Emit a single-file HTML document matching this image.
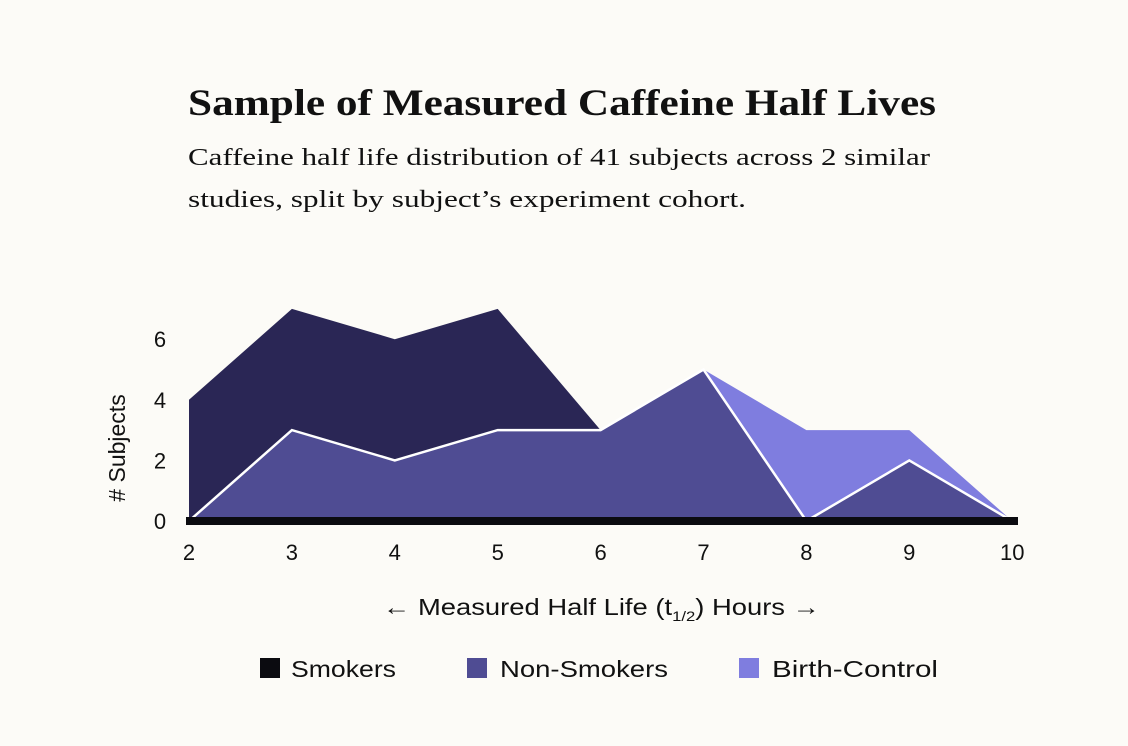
<!DOCTYPE html>
<html><head><meta charset="utf-8"><style>
body{margin:0;background:#fcfbf7;width:1128px;height:746px;overflow:hidden}
svg{display:block}
</style></head><body>
<svg width="1128" height="746" id="c">
<rect width="1128" height="746" fill="#fcfbf7"/>
<text x="188" y="115" textLength="748" lengthAdjust="spacingAndGlyphs" font-family="Liberation Serif, serif" font-weight="bold" font-size="37" fill="#111">Sample of Measured Caffeine Half Lives</text>
<text x="188" y="165" textLength="742" lengthAdjust="spacingAndGlyphs" font-family="Liberation Serif, serif" font-size="24" fill="#111">Caffeine half life distribution of 41 subjects across 2 similar</text>
<text x="188" y="207" textLength="558" lengthAdjust="spacingAndGlyphs" font-family="Liberation Serif, serif" font-size="24" fill="#111">studies, split by subject’s experiment cohort.</text>
<g id="plot"></g>
<text transform="translate(125,448) rotate(-90)" text-anchor="middle" font-family="Liberation Sans, sans-serif" font-size="23" fill="#111"># Subjects</text>
<text x="383" y="615" textLength="437" lengthAdjust="spacingAndGlyphs" font-family="Liberation Sans, sans-serif" font-size="23" fill="#111">← Measured Half Life (t<tspan font-size="14" dy="6">1/2</tspan><tspan dy="-6">) Hours →</tspan></text>
<g font-family="Liberation Sans, sans-serif" font-size="23" fill="#111">
<rect x="260" y="658" width="20" height="20" fill="#0b0b10"/>
<text x="291" y="677" textLength="105" lengthAdjust="spacingAndGlyphs">Smokers</text>
<rect x="467" y="658" width="20" height="20" fill="#4f4c93"/>
<text x="500" y="677" textLength="168" lengthAdjust="spacingAndGlyphs">Non-Smokers</text>
<rect x="739" y="658" width="20" height="20" fill="#7f7ddf"/>
<text x="772" y="677" textLength="166" lengthAdjust="spacingAndGlyphs">Birth-Control</text>
</g>
</svg>
<script>
const xs = [2,3,4,5,6,7,8,9,10];
const smokers = [4,7,6,7,3,0,0,0,0];
const nonSmokers = [0,3,2,3,3,5,0,2,0];
const birthControl = [0,0,0,0,0,5,3,3,0];
const yTicks = [0,2,4,6];
const xTicks = [2,3,4,5,6,7,8,9,10];
const NS='http://www.w3.org/2000/svg';
const X=v=>189+(v-2)*102.9;
const Y=v=>521-v*30.3;
const g=document.getElementById('plot');
function area(vals,fill,name,stroke){
  let d='M'+X(xs[0])+','+Y(0);
  xs.forEach((x,i)=>d+='L'+X(x)+','+Y(vals[i]));
  d+='L'+X(xs[xs.length-1])+','+Y(0)+'Z';
  const p=document.createElementNS(NS,'path');
  p.setAttribute('d',d);p.setAttribute('fill',fill);
  
  
  g.appendChild(p);
  if(stroke){
    let l='';xs.forEach((x,i)=>l+=(i?'L':'M')+X(x)+','+Y(vals[i]));
    const q=document.createElementNS(NS,'path');
    q.setAttribute('d',l);q.setAttribute('fill','none');q.setAttribute('stroke','#fff');q.setAttribute('stroke-width','2.5');
    
    
    g.appendChild(q);
  }
}
area(birthControl,'#7f7ddf','area-birth-control');
area(smokers,'#2a2655','area-smokers');
area(nonSmokers,'#4f4c93','area-non-smokers',true);
const base=document.createElementNS(NS,'rect');
base.setAttribute('x',186);base.setAttribute('y',517);base.setAttribute('width',832);base.setAttribute('height',8);base.setAttribute('fill','#0b0b10');


g.appendChild(base);
yTicks.forEach(v=>{
  const t=document.createElementNS(NS,'text');
  t.setAttribute('x',160);t.setAttribute('y',Y(v)+8);t.setAttribute('text-anchor','middle');
  t.setAttribute('font-family','Liberation Sans, sans-serif');t.setAttribute('font-size','22');t.setAttribute('fill','#111');
  t.textContent=v;
  
  
  g.appendChild(t);
});
xTicks.forEach(v=>{
  const t=document.createElementNS(NS,'text');
  t.setAttribute('x',X(v));t.setAttribute('y',560);t.setAttribute('text-anchor','middle');
  t.setAttribute('font-family','Liberation Sans, sans-serif');t.setAttribute('font-size','22');t.setAttribute('fill','#111');
  t.textContent=v;
  
  
  g.appendChild(t);
});
</script>
</body></html>
